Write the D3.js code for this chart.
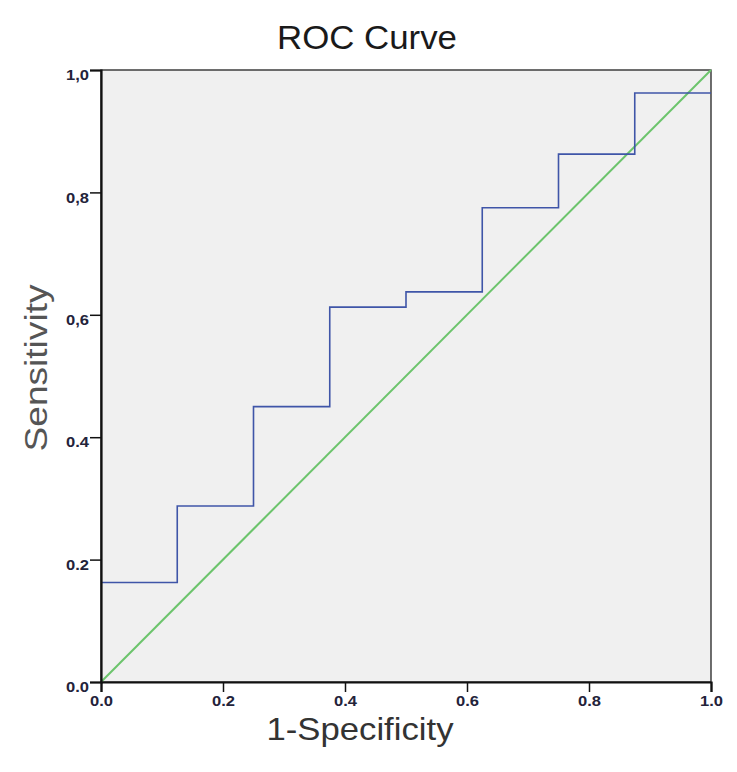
<!DOCTYPE html>
<html>
<head>
<meta charset="utf-8">
<script src="https://cdn.jsdelivr.net/npm/d3@7"></script>
<style>
  html, body { margin: 0; padding: 0; background: #fff; }
  svg { display: block; }
</style>
</head>
<body>
<svg id="chart" width="737" height="772"></svg>
<script>
// ---- data ----
const rocFPR = [0, 0.125, 0.125, 0.25, 0.25, 0.375, 0.375, 0.5, 0.5, 0.625, 0.625, 0.75, 0.75, 0.875, 0.875, 1.0];
const rocTPR = [0.1625, 0.1625, 0.2875, 0.2875, 0.45, 0.45, 0.6125, 0.6125, 0.6375, 0.6375, 0.775, 0.775, 0.8625, 0.8625, 0.9625, 0.9625];
const refX = [0, 1];
const refY = [0, 1];
const xTickValues = [0, 0.2, 0.4, 0.6, 0.8, 1.0];
const xTickLabels = ["0.0", "0.2", "0.4", "0.6", "0.8", "1.0"];
const yTickValues = [0, 0.2, 0.4, 0.6, 0.8, 1.0];
const yTickLabels = ["0.0", "0.2", "0.4", "0,6", "0,8", "1,0"];
const titleText = "ROC Curve";
const xLabel = "1-Specificity";
const yLabel = "Sensitivity";

// ---- layout ----
const svg = d3.select("#chart");
const pL = 101, pR = 711, pT = 70, pB = 682;
const x = d3.scaleLinear().domain([0, 1]).range([pL, pR]);
const y = d3.scaleLinear().domain([0, 1]).range([pB, pT]);
const font = "'Liberation Sans', Arial, Helvetica, sans-serif";

// plot background
svg.append("rect")
  .attr("x", pL).attr("y", pT)
  .attr("width", pR - pL).attr("height", pB - pT)
  .attr("fill", "#f0f0f0")
  .attr("stroke", "#222").attr("stroke-width", 1.3);

// reference diagonal
const refData = refX.map((d, i) => [d, refY[i]]);
svg.append("path")
  .datum(refData)
  .attr("d", d3.line().x(d => x(d[0])).y(d => y(d[1])))
  .attr("fill", "none")
  .attr("stroke", "#6cc46c")
  .attr("stroke-width", 2);

// ROC step curve
const rocData = rocFPR.map((d, i) => [d, rocTPR[i]]);
svg.append("path")
  .datum(rocData)
  .attr("d", d3.line().x(d => x(d[0])).y(d => y(d[1])))
  .attr("fill", "none")
  .attr("stroke", "#3f55a8")
  .attr("stroke-width", 1.6);

function styleTicks(g) {
  g.selectAll(".tick text")
    .style("font-family", font)
    .style("font-size", "15.5px")
    .style("font-weight", "bold")
    .attr("fill", "#23233a")
    .attr("textLength", 23)
    .attr("lengthAdjust", "spacingAndGlyphs");
}

// axes
const xAxis = d3.axisBottom(x)
  .tickValues(xTickValues)
  .tickFormat((d, i) => xTickLabels[i])
  .tickSize(10).tickPadding(3);
const gx = svg.append("g").attr("transform", `translate(0,${pB})`).call(xAxis);
gx.select(".domain").attr("stroke", "#111").attr("stroke-width", 2.2);
gx.selectAll(".tick line").attr("stroke", "#111").attr("stroke-width", 1.5);
styleTicks(gx);

const yAxis = d3.axisLeft(y)
  .tickValues(yTickValues)
  .tickFormat((d, i) => yTickLabels[i])
  .tickSize(11).tickPadding(1);
const gy = svg.append("g").attr("transform", `translate(${pL},0)`).call(yAxis);
gy.select(".domain").attr("stroke", "#111").attr("stroke-width", 2.2);
gy.selectAll(".tick line").attr("stroke", "#111").attr("stroke-width", 1.5);
styleTicks(gy);
gy.selectAll(".tick text").attr("dy", "0.62em");

// title
svg.append("text")
  .attr("x", 367).attr("y", 49)
  .attr("text-anchor", "middle")
  .attr("font-family", font).attr("font-size", 33)
  .attr("fill", "#1a1a1a")
  .attr("textLength", 180).attr("lengthAdjust", "spacingAndGlyphs")
  .text(titleText);

// x label
svg.append("text")
  .attr("x", 360).attr("y", 740)
  .attr("text-anchor", "middle")
  .attr("font-family", font).attr("font-size", 32)
  .attr("fill", "#333")
  .attr("textLength", 187).attr("lengthAdjust", "spacingAndGlyphs")
  .text(xLabel);

// y label
svg.append("text")
  .attr("transform", "translate(47,368) rotate(-90)")
  .attr("text-anchor", "middle")
  .attr("font-family", font).attr("font-size", 32)
  .attr("fill", "#555")
  .attr("textLength", 167).attr("lengthAdjust", "spacingAndGlyphs")
  .text(yLabel);
</script>
</body>
</html>
